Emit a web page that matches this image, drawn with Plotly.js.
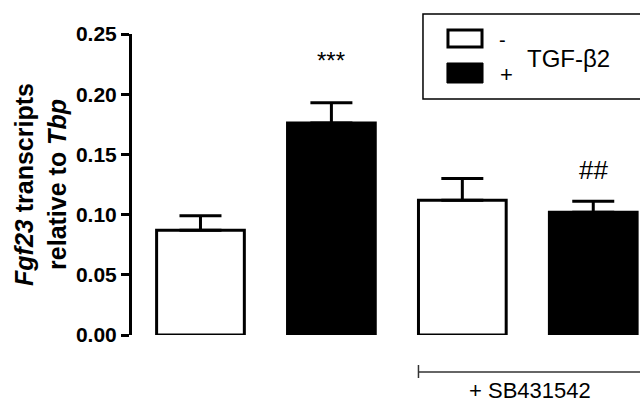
<!DOCTYPE html>
<html>
<head>
<meta charset="utf-8">
<script src="https://cdn.plot.ly/plotly-3.0.1.min.js"></script>
<style>html,body{margin:0;padding:0;background:#fff;}#chart{width:640px;height:405px;}</style>
</head>
<body>
<div id="chart"></div>
<script>
const positions = [0, 1, 2, 3];
const tgfLabels = ['-', '+', '-', '+'];
const barColors = ['#ffffff', '#000000', '#ffffff', '#000000'];
const values = [0.087, 0.176, 0.112, 0.102];
const errors = [0.012, 0.017, 0.018, 0.009];
const marks = ['', '***', '', '##'];
const yTicks = [0, 0.05, 0.10, 0.15, 0.20, 0.25];

const FONT = 'Liberation Sans, Arial, sans-serif';

const trace = {
  type: 'bar',
  x: positions,
  y: values,
  width: 0.67,
  marker: {color: barColors, line: {color: '#000', width: 3}},
  error_y: {type: 'data', array: errors, arrayminus: errors.map(() => 0), symmetric: false,
            color: '#000', thickness: 3, width: 21},
  text: tgfLabels,
  textposition: 'none',
  hoverinfo: 'none',
  showlegend: false
};

const annotations = [];
marks.forEach((m, i) => {
  if (!m) return;
  annotations.push({
    xref: 'x', yref: 'y', x: positions[i], y: values[i] + errors[i],
    text: m, showarrow: false, yanchor: 'bottom',
    yshift: m === '***' ? 27 : 14,
    font: {family: FONT, size: m === '***' ? 24 : 26, color: '#000'}
  });
});
// legend texts
annotations.push({xref: 'paper', yref: 'paper', x: 0.730, y: 0.98, xanchor: 'center', yanchor: 'middle',
  text: '-', showarrow: false, font: {family: FONT, size: 20, color: '#000'}});
annotations.push({xref: 'paper', yref: 'paper', x: 0.738, y: 0.864, xanchor: 'center', yanchor: 'middle',
  text: '+', showarrow: false, font: {family: FONT, size: 22, color: '#000'}});
annotations.push({xref: 'paper', yref: 'paper', x: 0.7736, y: 0.92, xanchor: 'left', yanchor: 'middle',
  text: 'TGF-β2', showarrow: false, font: {family: FONT, size: 24, color: '#000'}});
// SB431542 label
annotations.push({xref: 'x', yref: 'paper', x: 2.52, y: -0.186, xanchor: 'center', yanchor: 'middle',
  text: '+ SB431542', showarrow: false, font: {family: FONT, size: 22, color: '#000'}});

const shapes = [
  // legend box
  {type: 'rect', xref: 'paper', yref: 'paper', x0: 0.5728, x1: 1.03, y0: 0.784, y1: 1.0664,
   line: {color: '#000', width: 1.5}, fillcolor: 'rgba(0,0,0,0)'},
  {type: 'rect', xref: 'paper', yref: 'paper', x0: 0.622, x1: 0.689, y0: 0.957, y1: 1.013,
   line: {color: '#000', width: 3}, fillcolor: '#fff'},
  {type: 'rect', xref: 'paper', yref: 'paper', x0: 0.620, x1: 0.691, y0: 0.8372, y1: 0.9037,
   line: {color: '#000', width: 1}, fillcolor: '#000'},
  // SB431542 bracket
  {type: 'line', xref: 'x', yref: 'paper', x0: 1.665, x1: 3.5, y0: -0.1229, y1: -0.1229,
   line: {color: '#333', width: 1.5}},
  {type: 'line', xref: 'x', yref: 'paper', x0: 1.665, x1: 1.665, y0: -0.0997, y1: -0.1429,
   line: {color: '#333', width: 1.5}}
];

const layout = {
  width: 640, height: 405,
  margin: {l: 132, r: 0, t: 34, b: 70, pad: 0},
  paper_bgcolor: '#fff', plot_bgcolor: '#fff',
  xaxis: {range: [-0.523, 3.357], showline: false, showticklabels: false, ticks: '',
          showgrid: false, zeroline: false, fixedrange: true},
  yaxis: {range: [0, 0.25], tickvals: yTicks, tickformat: '.2f', showline: true, linewidth: 3,
          linecolor: '#000', ticks: 'outside', ticklen: 8, tickwidth: 3, tickcolor: '#000',
          showgrid: false, zeroline: false, automargin: false,
          tickfont: {family: FONT, size: 21, color: '#000', weight: 'bold'},
          title: {text: '<i>Fgf23</i> transcripts<br>relative to <i>Tbp</i>', standoff: 3,
                  font: {family: FONT, size: 25, color: '#000', weight: 'bold'}}},
  annotations: annotations,
  shapes: shapes,
  showlegend: false
};

Plotly.newPlot('chart', [trace], layout, {displayModeBar: false, staticPlot: true});
</script>
</body>
</html>
